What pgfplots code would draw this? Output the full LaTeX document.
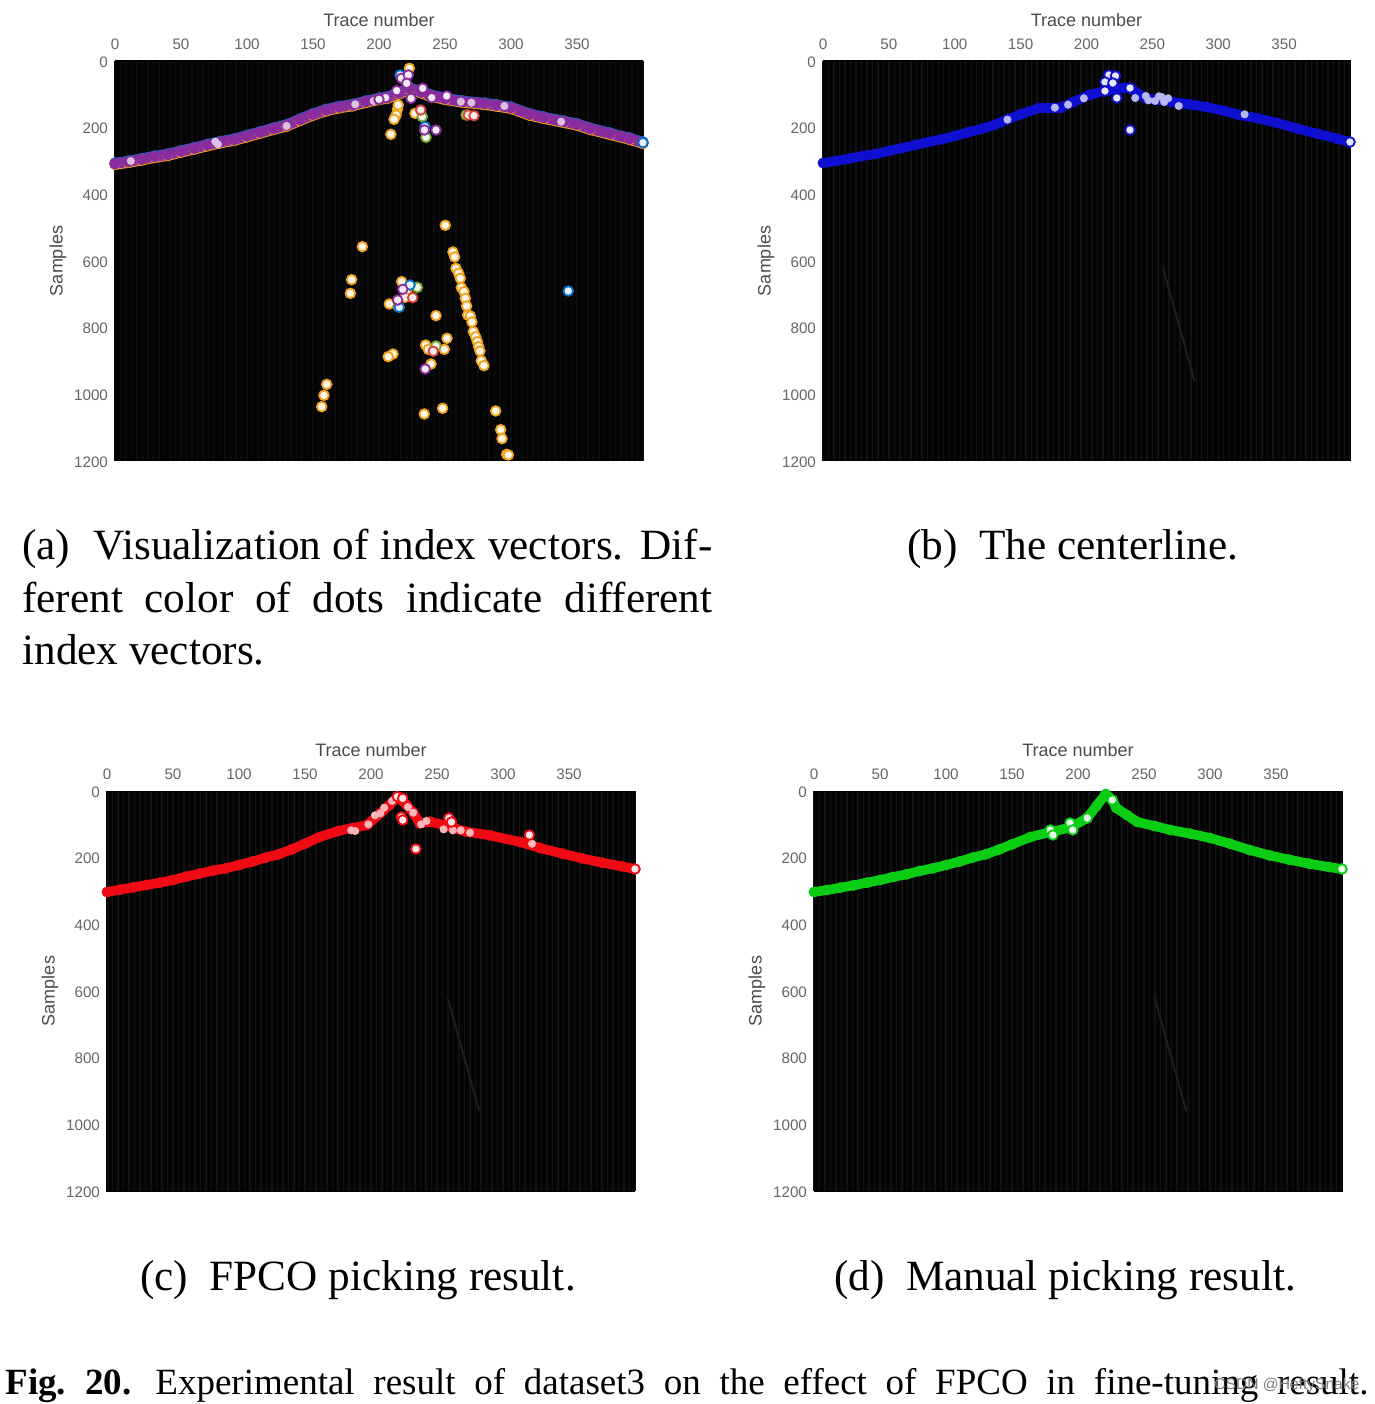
\documentclass[border=0pt]{standalone}
\usepackage{fontspec}
\setmainfont{Liberation Serif}
\newfontfamily\helv{Liberation Sans}
\usepackage{pgfplots}
\usepackage{pgfplotstable}
\pgfplotsset{compat=1.18}

\definecolor{mpurple}{HTML}{8A2C9E}
\definecolor{morange}{HTML}{F2A31E}
\definecolor{mgreen}{HTML}{77AC30}
\definecolor{mblue}{HTML}{0A6FC8}
\definecolor{mred}{HTML}{D9413A}
\definecolor{tickgray}{HTML}{666666}
\definecolor{bg}{HTML}{040404}
\definecolor{stripe}{HTML}{121212}
\definecolor{stripeA}{HTML}{0C0C0C}
\definecolor{faint}{HTML}{1E1E1E}
\definecolor{pureblue}{HTML}{0F0FD2}
\definecolor{purered}{HTML}{F00A14}
\definecolor{puregreen}{HTML}{0ACD14}

% panel (a): the band and the loose dots
\pgfplotstableread{
x y
0 308
10 302
20 295
30 287
40 281
50 271
60 262
70 252
80 243
90 236
100 225
110 214
120 203
130 193
140 176
150 160
160 147
170 138
180 132
190 122
200 113
206 110
215 97
223 82
232 93
238 102
250 113
264 122
280 128
289 133
300 140
314 160
325 170
340 182
350 190
360 203
375 218
390 233
400 245
}\bandA
\pgfplotstableread{
x y
250.2 493
187.4 557
179.3 656
178.3 697
256 573
257.3 588
258.3 622
260.3 637
261.6 652
262.4 680
264.4 692
265.4 712
266.4 735
267.2 762
269.2 765
270.4 783
271.5 812
273.2 827
274.5 842
275.5 857
276.5 870
277.5 899
279.5 914
243.2 764
251.5 832
235.3 852
249.5 865
239.4 909
210.6 879
207 887
160.4 970
158.3 1003
156.6 1037
234.3 1059
248.2 1042
288.4 1050
292.2 1106
293.2 1133
296.7 1180
298 1182
207.8 729
237.4 865
217.2 662
221 687
219.7 709
223 22
214 145
213 162
211.4 175
209 220
227.3 157
214.6 132
}\dotsOrange
\pgfplotstableread{
x y
229 679
214.6 737
243.2 855
232.8 167
266 162
235.6 229
}\dotsGreen
\pgfplotstableread{
x y
223.5 672
215.4 739
234.9 197
216 42
343.4 690
400 245
}\dotsBlue
\pgfplotstableread{
x y
225.5 710
241.1 871
231.6 147
267.7 162
272 164
}\dotsRed
\pgfplotstableread{
x y
218 685
214.1 717
235 924
234.4 207
243.2 207
217 52
222.2 42
221 67
213.4 89
233.1 82
224.3 112
251.3 105
205 110
200 115
240 110
}\dotsPurple
\pgfplotstableread{
x y
12 300
76 242
78 250
130 195
182 130
196 120
262 122
270 125
295 135
338 182
}\paleA

% panel (b)
\pgfplotstableread{
x y
0 306
10 300
20 293
30 285
40 279
50 270
60 261
70 252
80 243
90 235
100 225
110 214
120 204
130 192
140 175
150 160
164 141
180 141
190 123
202 102
214 90
228 81
233 81
245 112
265 123
278 130
291 138
305 150
316 162
330 172
345 186
360 203
375 218
390 233
400 243
}\bandB
\pgfplotstableread{
x y
217 42
222 45
214 63
220 66
233 81
214 90
223 111
233 207
400 243
}\dotsB
\pgfplotstableread{
x y
237 111
245 105
247 118
252 120
257 108
262 112
259 123
198 112
186 131
176 140
270 135
320 160
140 176
255 106
}\paleB

% panel (c)
\pgfplotstableread{
x y
0 303
10 296
20 289
30 282
40 275
50 267
60 257
70 248
80 239
90 232
100 222
110 212
120 200
130 190
140 175
150 158
161 138
175 120
186 111
197 102
207 67
214 42
220 17
227 42
232 65
237 97
245 92
258 105
272 122
290 133
313 153
328 171
345 188
360 202
375 215
390 226
400 234
}\bandC
\pgfplotstableread{
x y
220 17
224 22
234 174
223 78
224 87
259 81
261 93
320 132
400 234
}\dotsC
\pgfplotstableread{
x y
216 30
210 50
203 73
207 67
242 90
232 65
238 100
185 118
188 120
255 115
262 118
268 118
275 125
198 100
228 48
322 158
}\paleC

% panel (d)
\pgfplotstableread{
x y
0 303
10 297
20 290
30 283
40 275
50 267
60 258
70 250
80 240
90 232
100 222
110 212
120 200
130 190
140 176
150 160
164 138
179 123
194 110
207 81
214 45
221 9
226 27
229 51
237 72
245 93
258 105
270 117
285 128
300 141
315 158
330 177
345 193
360 206
375 218
390 228
400 234
}\bandD
\pgfplotstableread{
x y
179 117
181 132
194 96
196 117
207 81
226 27
400 234
}\dotsD

\pgfplotsset{
  panel/.style={
    scale only axis, width=264pt, height=200pt,
    xmin=0, xmax=400, ymin=0, ymax=1200, y dir=reverse,
    xtick={0,50,...,400}, xticklabels={0,50,100,150,200,250,300,350,},
    ytick={0,200,...,1200},
    xticklabel pos=upper,
    minor x tick num=11, xminorgrids, xmajorgrids,
    grid style={stripe, line width=0.7pt},
    minor grid style={stripe, line width=0.7pt},
    major tick length=0pt, minor tick length=0pt,
    axis background/.style={fill=bg},
    axis line style={black, line width=0.5pt},
    tick label style={font=\helv\fontsize{7.6pt}{9pt}\selectfont, text=tickgray},
    /pgf/number format/assume math mode=true,
    /pgf/number format/1000 sep={},
    xtick pos=upper,
    xlabel={Trace number}, ylabel={Samples},
    xlabel style={font=\helv\fontsize{9pt}{10pt}\selectfont, text=black!70, at={(axis description cs:0.5,1.103)}, anchor=center},
    ylabel style={font=\helv\fontsize{9pt}{10pt}\selectfont, text=black!70, at={(axis description cs:-0.108,0.5)}, anchor=center},
    x tick label style={yshift=2pt},
    y tick label style={yshift=-0.4pt},
    clip=false,
  },
  band/.style={color=#1, line width=4.8pt, line join=round, line cap=round, mark=*, mark size=2.6pt, mark options={solid, draw=#1, fill=#1, line width=0.2pt}},
  spot/.style={only marks, mark=*, mark size=2.4pt, mark options={draw=#1, fill=white!90!#1, line width=0.9pt}},
  pale/.style={only marks, mark=*, mark size=1.9pt, mark options={draw=white!70!#1, fill=white!70!#1, line width=0.2pt}},
}

\begin{document}
\begin{tikzpicture}
\path[use as bounding box, fill=white] (0,0) rectangle (687.5pt,702pt);

% (a)
\begin{axis}[panel, at={(57.5pt,671.5pt)}, anchor=north west,
  grid style={stripeA, line width=0.7pt}, minor grid style={stripeA, line width=0.7pt}]
\addplot[band=morange, yshift=-0.6pt, line width=5pt] table {\bandA};
\addplot[band=mblue, yshift=0.5pt, line width=4.8pt] table {\bandA};
\addplot[band=mpurple, line width=5.2pt, mark size=2.8pt] table {\bandA};
\addplot[pale=mpurple] table {\paleA};
\addplot[spot=morange] table {\dotsOrange};
\addplot[spot=mgreen] table {\dotsGreen};
\addplot[spot=mblue] table {\dotsBlue};
\addplot[spot=mred] table {\dotsRed};
\addplot[spot=mpurple] table {\dotsPurple};
\end{axis}

% (b)
\begin{axis}[panel, at={(411.5pt,671.5pt)}, anchor=north west, width=263.5pt]
\addplot[faint, line width=1pt] coordinates {(258,620) (270,790) (282,960)};
\addplot[band=pureblue] table {\bandB};
\addplot[pale=pureblue] table {\paleB};
\addplot[spot=pureblue] table {\dotsB};
\end{axis}

% (c)
\begin{axis}[panel, at={(53.5pt,306.5pt)}, anchor=north west]
\addplot[faint, line width=1pt] coordinates {(258,620) (270,790) (282,960)};
\addplot[band=purered] table {\bandC};
\addplot[pale=purered] table {\paleC};
\addplot[spot=purered] table {\dotsC};
\end{axis}

% (d)
\begin{axis}[panel, at={(407pt,306.5pt)}, anchor=north west]
\addplot[faint, line width=1pt] coordinates {(258,620) (270,790) (282,960)};
\addplot[band=puregreen] table {\bandD};
\addplot[spot=puregreen] table {\dotsD};
\end{axis}

% captions (px/2 from the left, (1404-py)/2 from the bottom)
\def\capfont{\fontsize{21.6pt}{26pt}\selectfont}
\node[anchor=base west, inner sep=0pt] at (11pt,422pt) {\capfont\makebox[345pt][s]{(a)\ \ Visualization of index vectors. Dif-}};
\node[anchor=base west, inner sep=0pt] at (11pt,395.5pt) {\capfont\makebox[345pt][s]{ferent color of dots indicate different}};
\node[anchor=base west, inner sep=0pt] at (11pt,369.5pt) {\capfont index vectors.};
\node[anchor=base, inner sep=0pt] at (536.5pt,422pt) {\capfont (b)\ \ The centerline.};
\node[anchor=base, inner sep=0pt] at (179pt,56.5pt) {\capfont (c)\ \ FPCO picking result.};
\node[anchor=base, inner sep=0pt] at (532.5pt,56.5pt) {\capfont (d)\ \ Manual picking result.};
\node[anchor=base west, inner sep=0pt] at (2.5pt,5pt) {\fontsize{18.5pt}{22pt}\selectfont\makebox[63pt][s]{\textbf{Fig. 20.}}\hspace{12pt}\makebox[606.5pt][s]{Experimental result of dataset3 on the effect of FPCO in fine-tuning result.}};
\node[anchor=west, inner sep=0pt, text=black!50] at (607pt,9.5pt) {\helv\fontsize{7.8pt}{9pt}\selectfont CSDN @HeftySnake};
\end{tikzpicture}
\end{document}
